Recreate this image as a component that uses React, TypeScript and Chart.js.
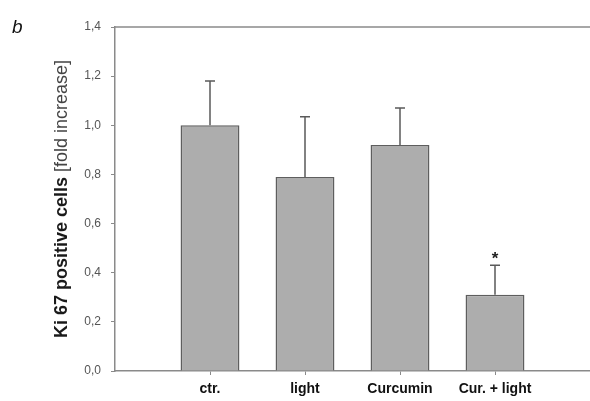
import React, { useEffect, useRef } from "react";
import { Chart, registerables } from "chart.js";

Chart.register(...registerables);

const categories = ["ctr.", "light", "Curcumin", "Cur. + light"];
const means = [1.0, 0.79, 0.92, 0.31];
const errorTops = [1.18, 1.035, 1.07, 0.43];
const significant = [false, false, false, true];
const yTicks = [0, 0.2, 0.4, 0.6, 0.8, 1.0, 1.2, 1.4];
const yTitleBold = "Ki 67 positive cells";
const yTitleRegular = " [fold increase]";
const panelLabel = "b";

const FONT = "'Liberation Sans', Arial, sans-serif";

const labels = ["", ...categories, ""];
const barData = [null, ...means, null];
const errData = [null, ...errorTops, null];
const sigData = [false, ...significant, false];

const extrasPlugin = {
  id: "extras",
  afterDatasetsDraw(chart: any) {
    const { ctx, chartArea, scales } = chart;
    const meta = chart.getDatasetMeta(0);
    ctx.save();
    // top frame line
    ctx.strokeStyle = "#8a8a8a";
    ctx.lineWidth = 1.5;
    ctx.beginPath();
    ctx.moveTo(chartArea.left, chartArea.top);
    ctx.lineTo(chartArea.right, chartArea.top);
    ctx.stroke();
    // error bars
    meta.data.forEach((bar: any, i: number) => {
      const top = errData[i];
      if (top == null) return;
      const x = bar.x;
      const yTop = scales.y.getPixelForValue(top);
      ctx.strokeStyle = "#5a5a5a";
      ctx.lineWidth = 1.5;
      ctx.beginPath();
      ctx.moveTo(x, bar.y);
      ctx.lineTo(x, yTop);
      ctx.moveTo(x - 5, yTop);
      ctx.lineTo(x + 5, yTop);
      ctx.stroke();
      if (sigData[i]) {
        ctx.fillStyle = "#222";
        ctx.font = `bold 17px ${FONT}`;
        ctx.textAlign = "center";
        ctx.textBaseline = "middle";
        ctx.fillText("*", x, yTop - 6);
      }
    });
    // y title with mixed weights
    const cx = 62;
    const cy = 199;
    ctx.translate(cx, cy);
    ctx.rotate(-Math.PI / 2);
    ctx.textBaseline = "middle";
    ctx.textAlign = "left";
    const boldFont = `bold 18px ${FONT}`;
    const regFont = `18px ${FONT}`;
    ctx.font = boldFont;
    const w1 = ctx.measureText(yTitleBold).width;
    ctx.font = regFont;
    const w2 = ctx.measureText(yTitleRegular).width;
    const start = -(w1 + w2) / 2;
    ctx.fillStyle = "#1a1a1a";
    ctx.font = boldFont;
    ctx.fillText(yTitleBold, start, 0);
    ctx.fillStyle = "#444";
    ctx.font = regFont;
    ctx.fillText(yTitleRegular, start + w1, 0);
    ctx.setTransform(1, 0, 0, 1, 0, 0);
    // panel label
    ctx.fillStyle = "#111";
    ctx.font = `italic 19px ${FONT}`;
    ctx.textAlign = "left";
    ctx.textBaseline = "middle";
    ctx.fillText(panelLabel, 12, 28);
    ctx.restore();
  },
};

export default function App() {
  const ref = useRef<HTMLCanvasElement>(null);
  useEffect(() => {
    if (!ref.current) return;
    const chart = new Chart(ref.current, {
      type: "bar",
      data: {
        labels,
        datasets: [
          {
            data: barData as any,
            backgroundColor: "#adadad",
            borderColor: "#5e5e5e",
            borderWidth: 1.5,
            categoryPercentage: 1,
            barPercentage: 0.62,
          },
        ],
      },
      options: {
        animation: false,
        responsive: false,
        layout: { padding: { top: 27, right: 0, left: 0, bottom: 0 } },
        plugins: { legend: { display: false }, tooltip: { enabled: false } },
        scales: {
          x: {
            offset: false,
            afterFit: (s: any) => {
              s.height = 30;
              s.paddingLeft = 0;
              s.paddingRight = 0;
            },
            border: { display: true, color: "#8a8a8a", width: 1.5 },
            grid: {
              display: true,
              offset: false,
              drawOnChartArea: false,
              tickLength: 4,
              tickColor: (c: any) =>
                c.index > 0 && c.index < labels.length - 1 ? "#8a8a8a" : "rgba(0,0,0,0)",
            },
            ticks: {
              autoSkip: false,
              maxRotation: 0,
              padding: 6,
              color: "#111",
              font: { family: FONT, size: 14, weight: "bold" },
            },
          },
          y: {
            min: 0,
            max: 1.4,
            afterFit: (s: any) => {
              s.width = 115;
            },
            afterBuildTicks: (s: any) => {
              s.ticks = yTicks.map((v) => ({ value: v }));
            },
            border: { display: true, color: "#8a8a8a", width: 1.5 },
            grid: {
              display: true,
              drawOnChartArea: false,
              tickLength: 4,
              color: "#8a8a8a",
            },
            ticks: {
              padding: 10,
              color: "#555",
              font: { family: FONT, size: 12 },
              callback: (v: any) => Number(v).toFixed(1).replace(".", ","),
            },
          },
        },
      },
      plugins: [extrasPlugin],
    });
    return () => chart.destroy();
  }, []);
  return (
    <div style={{ position: "absolute", left: 0, top: 0, width: 590, height: 401, background: "#fff" }}>
      <canvas ref={ref} width={590} height={401} style={{ display: "block" }} />
    </div>
  );
}
